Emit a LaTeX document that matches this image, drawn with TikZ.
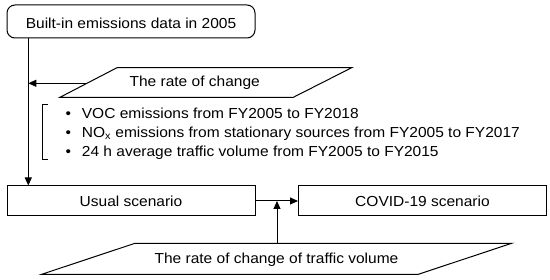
\documentclass[tikz,border=0pt]{standalone}
\usepackage{fontspec}
\setmainfont{Liberation Sans}[FakeStretch=1.07]
\usepackage{tikz}
\usetikzlibrary{arrows.meta,calc}
\newcommand\fs{\fontsize{14.5}{19}\selectfont}
\tikzset{
  box/.style  ={draw,line width=1pt,minimum width=248pt,minimum height=30pt,
                inner sep=0pt,text height=11.4pt,text depth=0pt,font=\fs},
  rbox/.style ={box,rounded corners=8pt,minimum height=33pt,text height=13.6pt},
  para/.style ={draw,line width=1pt},
  txt/.style  ={font=\fs,inner sep=0pt},
  fl/.style   ={-{Triangle[length=8pt,width=7pt]},line width=1pt},
}

\begin{document}
\begin{tikzpicture}[x=1pt,y=-1pt]
\useasboundingbox (0,0) rectangle (550,280);

%% ================= boxes ================================================
\node[rbox] (base)  at (131,21.5)  {Built-in emissions data in 2005};
\node[box]  (usual) at (131,201)   {Usual scenario};
\node[box]  (covid) at (422.5,201) {COVID-19 scenario};

%% ================= rate of change + what it is built from ===============
\draw[para] (117,67.7) -- (351.7,67.7) -- (293.3,97.3) -- (60,97.3) -- cycle;
\node[txt,anchor=base] (rate) at (194.7,86.7) {The rate of change};
\coordinate (rateL) at (87,83.3);
\coordinate (spine) at (28.3,83.3);

% bracket and the three sources
\draw[para] (48,105) -- (42.7,105) -- (42.7,160) -- (48,160);
\foreach \i/\y/\t in {1/118.3/VOC emissions from FY2005 to FY2018,
                      2/137.5/NO\textsubscript{x} emissions from stationary sources from FY2005 to FY2017,
                      3/156.7/24 h average traffic volume from FY2005 to FY2015}{
  \node[txt,anchor=base west] (item\i) at (65.3,\y) {\makebox[16.4pt][l]{\textbullet}\t};}

%% ================= traffic volume =======================================
\draw[para] (135,243.3) -- (511.7,243.3) -- (418.3,274.3) -- (41.7,274.3) -- cycle;
\node[txt,anchor=base] (traf) at (276.5,263.3) {The rate of change of traffic volume};
\coordinate (trafT) at (277,243.3);

%% ================= connectors ===========================================
\draw[fl] (base.south -| spine) -- (usual.north -| spine);
\draw[fl] (rateL) -- (spine);
\draw[fl] (usual.east) -- (covid.west);
\draw[fl] (trafT) -- (trafT |- usual.east);

\end{tikzpicture}
\end{document}
